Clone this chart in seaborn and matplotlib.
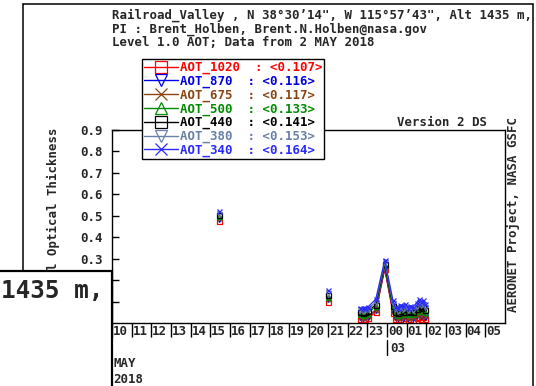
import numpy as np
import pandas as pd
import matplotlib
matplotlib.use("Agg")
import matplotlib.pyplot as plt
from matplotlib.lines import Line2D
from matplotlib.patches import Rectangle
import seaborn as sns

# Observation times (hours since 00 UTC on 2 May; values > 24 fall on 3 May)
hours = [15.45, 20.97,
         22.62, 22.75, 22.88, 23.02, 23.42, 23.88, 24.30, 24.42, 24.55, 24.68,
         24.80, 24.92, 25.05, 25.18, 25.30, 25.52, 25.62, 25.72, 25.82, 25.92]
# Continuous runs of measurements (lines are broken between runs)
segment = [0, 1,
           2, 2, 2, 2, 2, 2, 2, 2, 2, 2,
           2, 2, 2, 2, 2, 2, 2, 2, 2, 2]

aot_1020 = [0.475, 0.100,
            0.020, 0.015, 0.018, 0.022, 0.050, 0.250, 0.045, 0.020, 0.012, 0.018,
            0.015, 0.022, 0.014, 0.018, 0.016, 0.025, 0.030, 0.020, 0.028, 0.018]
aot_870 = [0.485, 0.110,
           0.028, 0.024, 0.027, 0.030, 0.060, 0.257, 0.055, 0.029, 0.021, 0.029,
           0.025, 0.033, 0.023, 0.028, 0.025, 0.036, 0.043, 0.033, 0.040, 0.029]
aot_675 = [0.490, 0.112,
           0.029, 0.025, 0.028, 0.032, 0.061, 0.258, 0.056, 0.030, 0.022, 0.030,
           0.026, 0.034, 0.024, 0.029, 0.026, 0.038, 0.044, 0.034, 0.042, 0.031]
aot_500 = [0.500, 0.120,
           0.043, 0.039, 0.043, 0.046, 0.078, 0.269, 0.073, 0.045, 0.038, 0.049,
           0.044, 0.053, 0.041, 0.047, 0.043, 0.057, 0.067, 0.057, 0.063, 0.050]
aot_440 = [0.505, 0.130,
           0.050, 0.047, 0.050, 0.054, 0.086, 0.275, 0.081, 0.053, 0.046, 0.058,
           0.053, 0.063, 0.049, 0.055, 0.051, 0.067, 0.078, 0.068, 0.074, 0.060]
aot_380 = [0.510, 0.140,
           0.060, 0.057, 0.061, 0.064, 0.098, 0.284, 0.093, 0.064, 0.057, 0.072,
           0.065, 0.076, 0.060, 0.068, 0.062, 0.081, 0.094, 0.084, 0.090, 0.074]
aot_340 = [0.520, 0.155,
           0.070, 0.068, 0.072, 0.075, 0.110, 0.292, 0.105, 0.075, 0.068, 0.085,
           0.078, 0.090, 0.072, 0.080, 0.074, 0.095, 0.110, 0.100, 0.105, 0.088]

channels = ["AOT_1020", "AOT_870", "AOT_675", "AOT_500", "AOT_440", "AOT_380", "AOT_340"]
channel_means = ["0.107", "0.116", "0.117", "0.133", "0.141", "0.153", "0.164"]
series = [aot_1020, aot_870, aot_675, aot_500, aot_440, aot_380, aot_340]
colors = ["#ff0000", "#0000e6", "#8b4513", "#008c00", "#000000", "#6a80a8", "#2a2aff"]
markers = ["s", "v", "x", "^", "s", "v", "x"]

hour_ticks = list(range(10, 30))
hour_labels = ["10", "11", "12", "13", "14", "15", "16", "17", "18", "19", "20",
               "21", "22", "23", "00", "01", "02", "03", "04", "05"]
y_ticks = [0.1, 0.2, 0.3, 0.4, 0.5, 0.6, 0.7, 0.8, 0.9]

sns.set_theme(style="white")
plt.rcParams["font.family"] = ["DejaVu Sans Mono", "DejaVu Sans"]
plt.rcParams["font.weight"] = "bold"
FS = 8.9

W, H = 536, 386
fig = plt.figure(figsize=(W / 100, H / 100), dpi=100)
fig.patch.set_facecolor("white")


def fx(x):
    return x / W


def fy(y):
    return 1 - y / H


ax = fig.add_axes([fx(112), fy(323), (505 - 112) / W, (323 - 130) / H])
ax.set_facecolor("white")

for name, vals, col, mk in zip(channels, series, colors, markers):
    df = pd.DataFrame({"hour": hours, "aot": vals, "segment": segment})
    sns.lineplot(data=df, x="hour", y="aot", units="segment", estimator=None,
                 color=col, marker=mk, markersize=3.6, markeredgecolor=col,
                 markerfacecolor="none", markeredgewidth=0.9, linewidth=0.9,
                 legend=False, ax=ax)

ax.set_xlim(10, 30)
ax.set_ylim(0, 0.9)
ax.set_xlabel("")
ax.set_ylabel("")

for s in ax.spines.values():
    s.set_color("black")
    s.set_linewidth(1.0)

# hour boundaries as outward ticks, hour names centred in each interval
ax.set_xticks(hour_ticks)
ax.set_xticklabels([])
ax.set_xticks([h + 0.43 for h in hour_ticks], minor=True)
ax.set_xticklabels(hour_labels, minor=True, fontsize=FS, fontweight="bold")
ax.tick_params(axis="x", which="major", direction="out", length=10, width=1.0,
               color="black", bottom=True)
ax.tick_params(axis="x", which="minor", length=0, pad=1.5, bottom=True)

ax.set_yticks(y_ticks)
ax.set_yticklabels([f"{v:.1f}" for v in y_ticks], fontsize=FS, fontweight="bold")
ax.tick_params(axis="y", direction="in", length=5, width=1.0, color="black",
               pad=7, left=True)

ax.set_ylabel("Aerosol Optical Thickness", fontsize=FS, fontweight="bold")
ax.yaxis.set_label_coords((60 - 112) / (505 - 112), (323 - 221) / (323 - 130))

# date row below the hour labels
ax.annotate("03", xy=(24, 0), xycoords=("data", "axes fraction"),
            xytext=(2, -18.5), textcoords="offset points", ha="left", va="center",
            fontsize=FS, fontweight="bold", annotation_clip=False)
ax.plot([24, 24], [-0.09, -0.165], color="black", lw=1.0,
        transform=ax.get_xaxis_transform(), clip_on=False)
ax.annotate("MAY", xy=(10, 0), xycoords=("data", "axes fraction"),
            xytext=(1, -29), textcoords="offset points", ha="left", va="center",
            fontsize=FS, fontweight="bold", annotation_clip=False)
ax.annotate("2018", xy=(10, 0), xycoords=("data", "axes fraction"),
            xytext=(1, -41), textcoords="offset points", ha="left", va="center",
            fontsize=FS, fontweight="bold", annotation_clip=False)

# legend
handles = [Line2D([], [], color=c, marker=m, markersize=8, markerfacecolor="none",
                  markeredgecolor=c, markeredgewidth=0.9, linewidth=1.0)
           for c, m in zip(colors, markers)]
labels = [f"{n}  : <{v}>" for n, v in zip(channels, channel_means)]
leg = ax.legend(handles, labels, loc="upper left",
                bbox_to_anchor=(fx(142), fy(59)), bbox_transform=fig.transFigure,
                prop={"family": "DejaVu Sans Mono", "weight": "bold", "size": FS},
                frameon=True, fancybox=False, framealpha=1.0, edgecolor="black",
                borderpad=0.15, borderaxespad=0, labelspacing=0.04,
                handlelength=2.8, handletextpad=0.1, markerscale=1.0)
leg.get_frame().set_linewidth(1.0)
for t, c in zip(leg.get_texts(), colors):
    t.set_color(c)
leg.set_zorder(10)

# header
header = ["Railroad_Valley , N 38\u00b030\u201914\", W 115\u00b057\u201943\", Alt 1435 m,",
          "PI : Brent_Holben, Brent.N.Holben@nasa.gov",
          "Level 1.0 AOT; Data from 2 MAY 2018"]
for i, line in enumerate(header):
    fig.text(fx(112), fy(15 + 14 * i), line, ha="left", va="center",
             fontsize=FS, fontweight="bold")

fig.text(fx(487), fy(122), "Version 2 DS", ha="right", va="center",
         fontsize=FS, fontweight="bold")
fig.text(fx(514), fy(215), "AERONET Project, NASA GSFC", ha="center", va="center",
         rotation=90, fontsize=FS, fontweight="bold")

# outer frame
frame_kw = dict(color="black", lw=1.1, transform=fig.transFigure)
fig.add_artist(Line2D([fx(23), fx(23)], [fy(4), fy(386)], **frame_kw))
fig.add_artist(Line2D([fx(23), fx(533)], [fy(4), fy(4)], **frame_kw))
fig.add_artist(Line2D([fx(533), fx(533)], [fy(4), fy(386)], **frame_kw))

# magnified altitude call-out
box = Rectangle((fx(-5), fy(392)), fx(117), fy(271) - fy(392),
                transform=fig.transFigure, facecolor="white", edgecolor="black",
                linewidth=1.6, zorder=20)
fig.add_artist(box)
fig.text(fx(1), fy(291), "1435 m,", ha="left", va="center", fontsize=17.5,
         fontweight="bold", family="DejaVu Sans Mono", zorder=21)

fig.savefig("out.png", dpi=100)
